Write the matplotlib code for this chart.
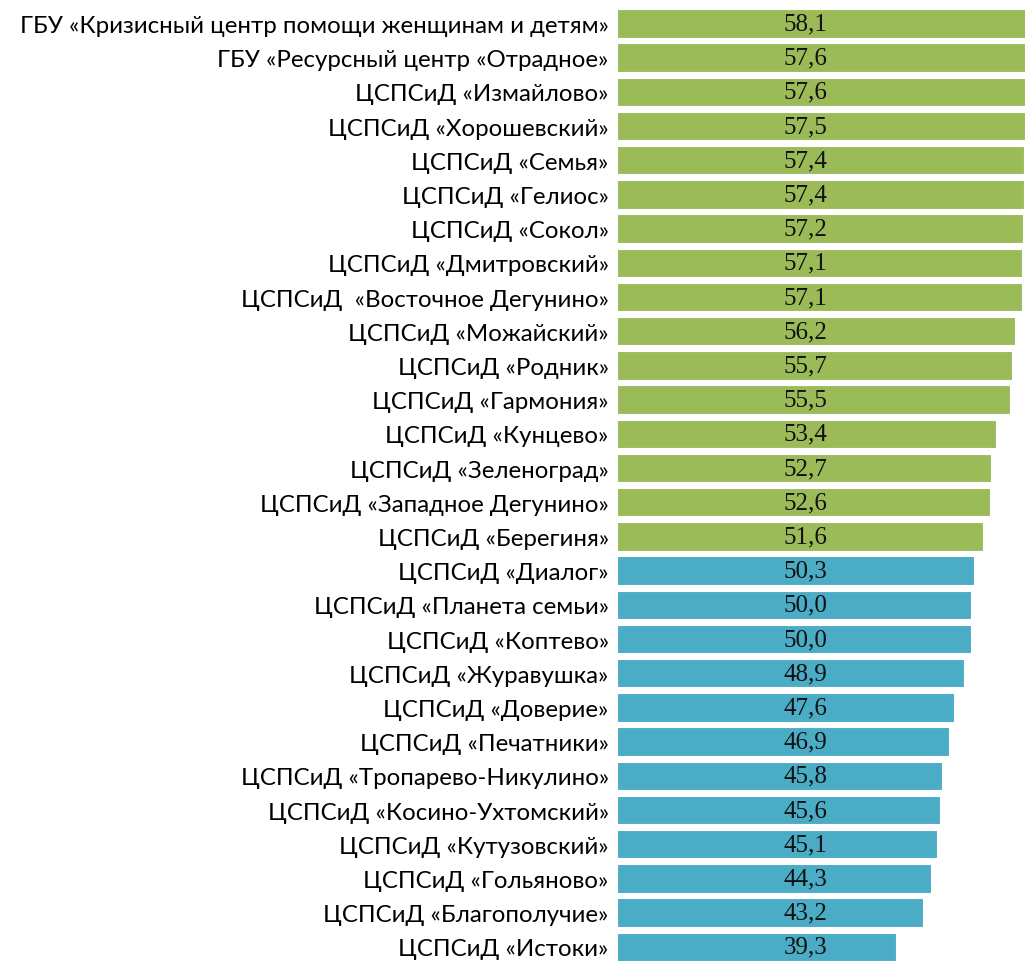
import matplotlib
matplotlib.use("Agg")
import matplotlib.pyplot as plt

categories = [
    "ГБУ «Кризисный центр помощи женщинам и детям»",
    "ГБУ «Ресурсный центр «Отрадное»",
    "ЦСПСиД «Измайлово»",
    "ЦСПСиД «Хорошевский»",
    "ЦСПСиД «Семья»",
    "ЦСПСиД «Гелиос»",
    "ЦСПСиД «Сокол»",
    "ЦСПСиД «Дмитровский»",
    "ЦСПСиД  «Восточное Дегунино»",
    "ЦСПСиД «Можайский»",
    "ЦСПСиД «Родник»",
    "ЦСПСиД «Гармония»",
    "ЦСПСиД «Кунцево»",
    "ЦСПСиД «Зеленоград»",
    "ЦСПСиД «Западное Дегунино»",
    "ЦСПСиД «Берегиня»",
    "ЦСПСиД «Диалог»",
    "ЦСПСиД «Планета семьи»",
    "ЦСПСиД «Коптево»",
    "ЦСПСиД «Журавушка»",
    "ЦСПСиД «Доверие»",
    "ЦСПСиД «Печатники»",
    "ЦСПСиД «Тропарево-Никулино»",
    "ЦСПСиД «Косино-Ухтомский»",
    "ЦСПСиД «Кутузовский»",
    "ЦСПСиД «Гольяново»",
    "ЦСПСиД «Благополучие»",
    "ЦСПСиД «Истоки»",
]
values = [58.1, 57.6, 57.6, 57.5, 57.4, 57.4, 57.2, 57.1, 57.1, 56.2, 55.7, 55.5,
          53.4, 52.7, 52.6, 51.6, 50.3, 50.0, 50.0, 48.9, 47.6, 46.9, 45.8, 45.6,
          45.1, 44.3, 43.2, 39.3]
group_high = 16  # first 16 bars in green

GREEN = "#9BBB59"
BLUE = "#4BACC6"

fig = plt.figure(figsize=(10.25, 9.62), dpi=100)
ax = fig.add_axes([617 / 1025, 0.0, 1 - 617 / 1025, 1.0])

n = len(values)
ypos = list(range(n))
colors = [GREEN if i < group_high else BLUE for i in range(n)]
ax.barh(ypos, values, height=0.83, color=colors, edgecolor="white", linewidth=0.8)

bottom = n - 1 + 0.415
ax.set_xlim(0, 57.55)
ax.set_ylim(bottom, bottom - 962 / 34.2)
ax.set_yticks(ypos)
ax.set_yticklabels(categories, family=["Lato", "DejaVu Sans"], fontsize=17.3)
ax.tick_params(axis="y", length=0, pad=6)
ax.set_xticks([])
for s in ax.spines.values():
    s.set_visible(False)

for i, v in enumerate(values):
    ax.text(26.6, i, f"{v:.1f}".replace(".", ","), ha="center", va="center",
            family=["Liberation Serif", "DejaVu Serif"], fontsize=18, color="#111111")

fig.savefig("out.png", dpi=100)
